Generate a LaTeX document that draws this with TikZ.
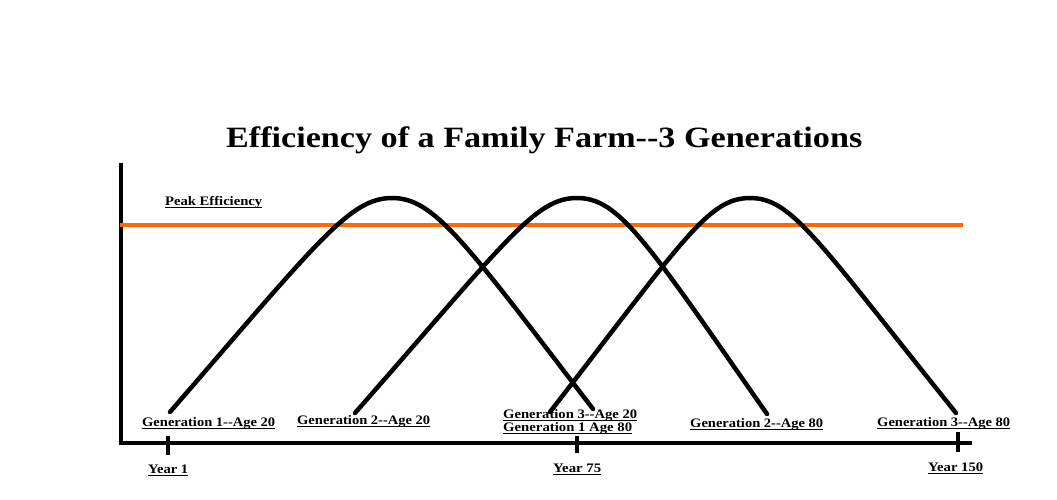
\documentclass[tikz,border=0pt]{standalone}
\usepackage{fontspec}
\setmainfont{Liberation Serif}
\usetikzlibrary{calc}
\definecolor{peakorange}{RGB}{255,106,0}
\newcommand\dd{-\kern0pt-}
\newcommand\ulx[1]{\setbox0\hbox{#1}\leavevmode\rlap{\rule[-2.8pt]{\wd0}{1.2pt}}\box0}
\newcommand\fw[2]{\resizebox{#1pt}{\height}{\ulx{#2}}}
\tikzset{
  lbl/.style={inner sep=0pt, anchor=base west, font=\fontsize{13}{15}\selectfont\bfseries},
  ttl/.style={inner sep=0pt, anchor=base west, font=\fontsize{29.5}{34}\selectfont\bfseries},
  axisline/.style={line width=3.5pt, black},
  tickline/.style={line width=3.5pt, black},
  gencurve/.style={line width=4.5pt, black, line cap=round, line join=round},
  peakline/.style={line width=3.8pt, peakorange}
}
\begin{document}
\begin{tikzpicture}[x=1pt, y=-1pt]
\useasboundingbox (0,0) rectangle (1057,500);
% title
\node[ttl] (title) at (226,147) {\resizebox{636pt}{\height}{Efficiency of a Family Farm\dd 3 Generations}};
% axes
\coordinate (ytop) at (121,163);
\coordinate (orig) at (121,443);
\coordinate (xend) at (972,443);
\draw[axisline] (ytop) -- (orig) -- (xend);
% ticks
\coordinate (t1a) at (168,436); \coordinate (t1b) at (168,455);
\coordinate (t2a) at (577,436); \coordinate (t2b) at (577,453);
\coordinate (t3a) at (958,432); \coordinate (t3b) at (958,452);
\draw[tickline] (t1a) -- (t1b);
\draw[tickline] (t2a) -- (t2b);
\draw[tickline] (t3a) -- (t3b);
% peak efficiency line
\coordinate (pkl) at (120,225);
\coordinate (pkr) at (963,225);
\draw[peakline] (pkl) -- (pkr);
\node[lbl] (peak) at (165,205) {\fw{97}{Peak Efficiency}};
% generation curves
\coordinate (s1) at (170,412); \coordinate (p1) at (392,198); \coordinate (e1) at (593,409);
\coordinate (ol1) at (332,225); \coordinate (or1) at (452,225);
\coordinate (s2) at (355,413); \coordinate (p2) at (577,198); \coordinate (e2) at (767,414);
\coordinate (ol2) at (520,225); \coordinate (or2) at (635,225);
\coordinate (s3) at (550,412); \coordinate (p3) at (750,198); \coordinate (e3) at (956,413);
\coordinate (ol3) at (695,225); \coordinate (or3) at (805,225);
\foreach \i in {1,2,3}{
  \draw[gencurve] (s\i) .. controls ($(s\i)!0.92!(ol\i)$) and ($(p\i)+(-42,0)$) .. (p\i)
    .. controls ($(p\i)+(42,0)$) and ($(e\i)!0.92!(or\i)$) .. (e\i);
}
% labels
\node[lbl] (g1y20) at (142,426) {\fw{133}{Generation 1\dd Age 20}};
\node[lbl] (g2y20) at (297,424) {\fw{133}{Generation 2\dd Age 20}};
\node[lbl] (g3y20) at (503,418) {\fw{134}{Generation 3\dd Age 20}};
\node[lbl] (g1y80) at (503,431) {\fw{129}{Generation 1 Age 80}};
\node[lbl] (g2y80) at (690,427) {\fw{133}{Generation 2\dd Age 80}};
\node[lbl] (g3y80) at (877,426) {\fw{133}{Generation 3\dd Age 80}};
\node[lbl] (yr1) at (148,473) {\fw{40}{Year 1}};
\node[lbl] (yr75) at (553,472) {\fw{48}{Year 75}};
\node[lbl] (yr150) at (928,471) {\fw{55}{Year 150}};
\end{tikzpicture}
\end{document}
